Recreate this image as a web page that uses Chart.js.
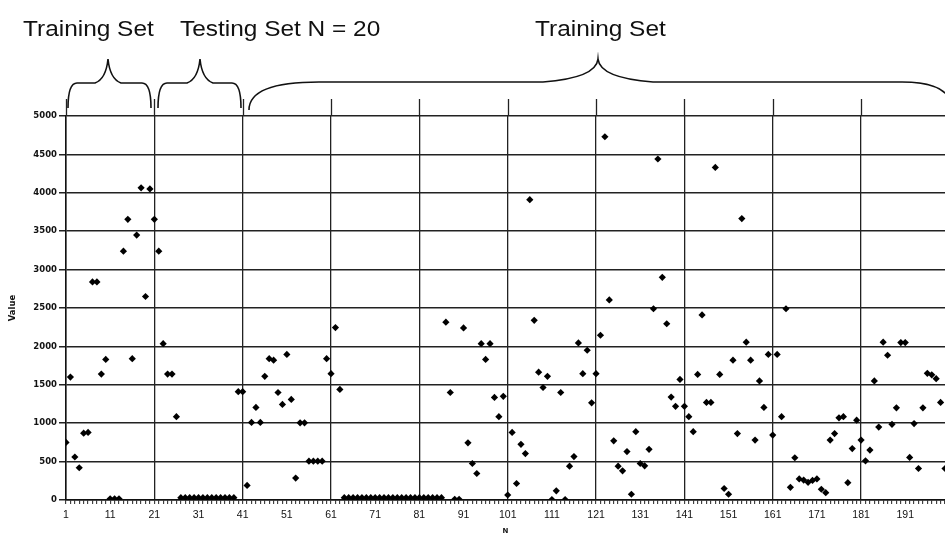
<!DOCTYPE html>
<html>
<head>
<meta charset="utf-8">
<script src="https://cdn.jsdelivr.net/npm/chart.js@4.4.1/dist/chart.umd.min.js"></script>
<style>
  html, body { margin: 0; background: #fff; overflow: hidden; }
  #wrap { width: 950px; height: 537px; position: relative; }
</style>
</head>
<body>
<div id="wrap"><canvas id="chart"></canvas></div>
<script>
// value of each sample, N = 1 .. 200 in order
const values = [
  750, 1600, 560, 420, 870, 880, 2840, 2840, 1640, 1830,
  15, 15, 15, 3240, 3655, 1840, 3450, 4065, 2650, 4050,
  3655, 3240, 2035, 1640, 1640, 1085, 30, 30, 30, 30,
  30, 30, 30, 30, 30, 30, 30, 30, 30, 1410,
  1410, 190, 1010, 1205, 1010, 1610, 1840, 1820, 1400, 1245,
  1895, 1310, 285, 1005, 1005, 505, 505, 505, 505, 1840,
  1645, 2245, 1440, 30, 30, 30, 30, 30, 30, 30,
  30, 30, 30, 30, 30, 30, 30, 30, 30, 30,
  30, 30, 30, 30, 30, 30, 2315, 1400, 10, 10,
  2240, 745, 475, 345, 2035, 1830, 2035, 1335, 1085, 1350,
  65, 880, 215, 725, 605, 3910, 2340, 1665, 1465, 1610,
  5, 120, 1400, 5, 440, 565, 2045, 1645, 1950, 1265,
  1645, 2145, 4730, 2605, 770, 440, 380, 630, 75, 890,
  475, 445, 660, 2490, 4440, 2900, 2295, 1340, 1220, 1570,
  1220, 1085, 890, 1635, 2410, 1270, 1270, 4330, 1635, 150,
  75, 1820, 865, 3665, 2055, 1820, 780, 1550, 1205, 1895,
  845, 1895, 1085, 2490, 165, 550, 275, 260, 230, 255,
  275, 140, 95, 780, 865, 1070, 1085, 225, 670, 1040,
  780, 510, 650, 1550, 950, 2055, 1885, 985, 1200, 2050,
  2050, 555, 995, 410, 1200, 1650, 1630, 1580, 1270, 410
];

const xLabelTicks = [1, 11, 21, 31, 41, 51, 61, 71, 81, 91, 101, 111, 121, 131, 141, 151, 161, 171, 181, 191];
const xGridTicks = [1, 21, 41, 61, 81, 101, 121, 141, 161, 181];
const yTicks = [0, 500, 1000, 1500, 2000, 2500, 3000, 3500, 4000, 4500, 5000];
const groupLabels = ['Training Set', 'Testing Set N = 20', 'Training Set'];

const points = values.map((v, i) => ({ x: i + 1, y: v }));

// draws one curly brace, ends down at yb, peak up at yp
function brace(ctx, b) {
    ctx.beginPath();
    ctx.moveTo(b.x1, b.yb);
    ctx.quadraticCurveTo(b.x1, b.yh, b.x1 + b.r1, b.yh);
    ctx.lineTo(b.xc - b.w, b.yh);
    ctx.quadraticCurveTo(b.xc - 2, b.yh - 4, b.xc, b.yp);
    ctx.quadraticCurveTo(b.xc + 2, b.yh - 4, b.xc + b.w, b.yh);
    ctx.lineTo(b.x2 - b.r2, b.yh);
    ctx.quadraticCurveTo(b.x2, b.yh, b.x2, b.yb);
    ctx.stroke();
}

const headerPlugin = {
    id: 'header',
    afterDraw(chart) {
        const ctx = chart.ctx;
        const xs = chart.scales.x;
        const top = chart.chartArea.top;
        ctx.save();
        ctx.strokeStyle = '#222';
        ctx.lineWidth = 1.3;
        // grid lines poke out above the plot
        xGridTicks.forEach(v => {
            const px = Math.round(xs.getPixelForValue(v)) + 0.5;
            ctx.beginPath();
            ctx.moveTo(px, top - 17);
            ctx.lineTo(px, top);
            ctx.stroke();
        });

        ctx.lineWidth = 1.6;
        ctx.strokeStyle = '#111';
        const braces = [
            { x1: 68, x2: 151, xc: 108, yb: 108, yh: 83, yp: 59, r1: 9, r2: 9, w: 13 },
            { x1: 158, x2: 241, xc: 200, yb: 108, yh: 83, yp: 59, r1: 9, r2: 9, w: 13 },
            { x1: 249, x2: 952, xc: 598, yb: 110, yh: 82, yp: 59, r1: 70, r2: 50, w: 55 }
        ];
        braces.forEach(b => brace(ctx, b));

        ctx.fillStyle = '#111';
        ctx.font = '22px "Liberation Sans", Arial, sans-serif';
        ctx.textBaseline = 'alphabetic';
        const labelX = [23, 180, 535];
        groupLabels.forEach((t, k) => {
            ctx.save();
            ctx.translate(labelX[k], 36);
            ctx.scale(1.11, 1);
            ctx.fillText(t, 0, 0);
            ctx.restore();
        });
        ctx.restore();
    }
};

new Chart(document.getElementById('chart'), {
    type: 'scatter',
    data: {
        datasets: [{
            label: 'Value',
            data: points,
            pointStyle: 'rectRot',
            pointRadius: 3.6,
            pointHoverRadius: 3.6,
            pointBackgroundColor: '#000',
            pointBorderWidth: 0,
            showLine: false
        }]
    },
    options: {
        responsive: true,
        maintainAspectRatio: false,
        animation: false,
        layout: { padding: { top: 116, left: 0, right: 0, bottom: 0 } },
        plugins: {
            legend: { display: false },
            tooltip: { enabled: false }
        },
        scales: {
            x: {
                type: 'linear',
                min: 1,
                max: 200,
                afterFit: s => { s.height = 37; },
                ticks: {
                    stepSize: 1,
                    autoSkip: false,
                    maxRotation: 0,
                    padding: 5,
                    color: '#111',
                    font: { family: '"Liberation Sans", Arial, sans-serif', size: 10.5 },
                    callback: v => xLabelTicks.includes(v) ? String(v) : ''
                },
                grid: {
                    color: c => (c.tick && xGridTicks.includes(c.tick.value)) ? '#222' : 'rgba(0,0,0,0)',
                    lineWidth: 1.3,
                    tickColor: '#222',
                    tickLength: 4,
                    tickWidth: 1
                },
                border: { display: true, color: '#111', width: 1.5 },
                title: {
                    display: true,
                    text: 'N',
                    color: '#111',
                    padding: { top: 0, bottom: 2 },
                    font: { family: '"DejaVu Sans", sans-serif', size: 7, weight: 'bold' }
                }
            },
            y: {
                min: 0,
                max: 5000,
                afterFit: s => { s.width = 66; },
                afterBuildTicks: s => { s.ticks = yTicks.map(v => ({ value: v })); },
                ticks: {
                    padding: 2,
                    color: '#111',
                    font: { family: '"DejaVu Sans", sans-serif', size: 8.5, weight: 'bold' },
                    callback: v => String(v)
                },
                grid: {
                    color: '#222',
                    lineWidth: 1.5,
                    tickColor: '#222',
                    tickLength: 7
                },
                border: { display: true, color: '#111', width: 1.5 },
                title: {
                    display: true,
                    text: 'Value',
                    color: '#111',
                    padding: { top: 8, bottom: 0 },
                    font: { family: '"DejaVu Sans", sans-serif', size: 8.5, weight: 'bold' }
                }
            }
        }
    },
    plugins: [headerPlugin]
});
</script>
</body>
</html>
